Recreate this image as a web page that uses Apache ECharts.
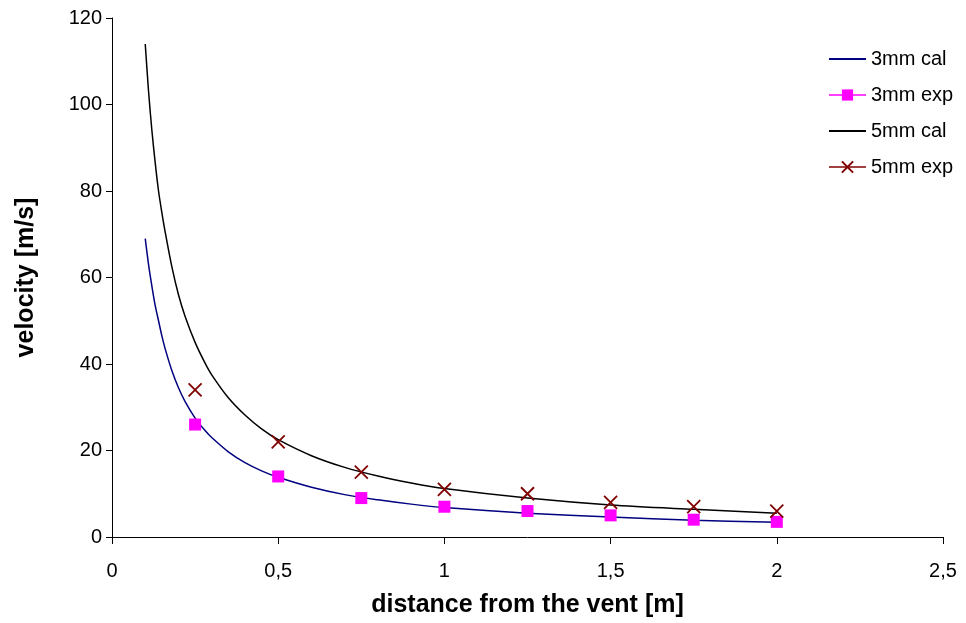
<!DOCTYPE html>
<html>
<head>
<meta charset="utf-8">
<script src="https://cdn.jsdelivr.net/npm/echarts@6/dist/echarts.min.js"></script>
<style>html,body{margin:0;padding:0;background:#fff;}#c{width:966px;height:623px;}</style>
</head>
<body>
<div id="c"></div>
<script>
// Calculated curves
var calX   = [0.1, 0.11, 0.12, 0.13, 0.14, 0.15, 0.16, 0.18, 0.2, 0.22, 0.25, 0.28, 0.3, 0.35, 0.4, 0.45, 0.5, 0.6, 0.7, 0.8, 0.9, 1.0, 1.25, 1.5, 1.75, 2.0];
var cal3mm = [69, 63, 58, 53.5, 50, 46.5, 43.5, 38.5, 34.5, 31.3, 27.5, 24.6, 23, 19.7, 17.2, 15.3, 13.8, 11.5, 9.8, 8.6, 7.6, 6.8, 5.5, 4.6, 3.9, 3.4];
var cal5mm = [114, 103, 94, 86.5, 80, 75, 70.5, 62.5, 56, 51, 45, 40.2, 37.5, 32.2, 28.2, 25, 22.5, 18.8, 16.1, 14.1, 12.5, 11.2, 9, 7.4, 6.4, 5.5];
// Experimental points
var expX   = [0.25, 0.5, 0.75, 1.0, 1.25, 1.5, 1.75, 2.0];
var exp3mm = [26, 14, 9, 7, 6, 5, 4, 3.5];
var exp5mm = [34, 22, 15, 11, 10, 8, 7, 6];
var xTicks = ['0', '0,5', '1', '1,5', '2', '2,5'];

function pairs(xs, ys) { return xs.map(function (x, i) { return [x, ys[i]]; }); }

var FONT = '"Liberation Sans", Arial, sans-serif';
var chart = echarts.init(document.getElementById('c'), null, { renderer: 'canvas' });
chart.setOption({
  animation: false,
  backgroundColor: '#ffffff',
  grid: { left: 112, right: 23, top: 18, bottom: 80, containLabel: false },
  legend: {
    orient: 'vertical', left: 823, top: 43, itemWidth: 37, itemHeight: 14, itemGap: 14,
    textStyle: { fontFamily: FONT, fontSize: 20, color: '#000', lineHeight: 22 },
    data: [
      { name: '3mm cal', itemStyle: { opacity: 0 } },
      { name: '3mm exp', lineStyle: { width: 1.5, color: '#ff00ff', opacity: 1 } },
      { name: '5mm cal', itemStyle: { opacity: 0 } },
      { name: '5mm exp', lineStyle: { width: 1.5, color: '#800000', opacity: 1 } }
    ]
  },
  xAxis: {
    type: 'value', min: 0, max: 2.5, interval: 0.5,
    name: 'distance from the vent [m]', nameLocation: 'middle', nameGap: 56,
    nameTextStyle: { fontFamily: FONT, fontSize: 25, fontWeight: 'bold', color: '#000' },
    axisLine: { lineStyle: { color: '#000', width: 1 } },
    axisTick: { show: true, inside: false, length: 7, lineStyle: { color: '#000' } },
    axisLabel: { fontFamily: FONT, fontSize: 20, color: '#000', margin: 24,
      formatter: function (v) { return xTicks[Math.round(v / 0.5)]; } },
    splitLine: { show: false }
  },
  yAxis: {
    type: 'value', min: 0, max: 120, interval: 20,
    name: 'velocity [m/s]', nameLocation: 'middle', nameGap: 73, nameRotate: 90,
    nameTextStyle: { fontFamily: FONT, fontSize: 25, fontWeight: 'bold', color: '#000' },
    axisLine: { show: true, lineStyle: { color: '#000', width: 1 } },
    axisTick: { show: true, inside: false, length: 6, lineStyle: { color: '#000' } },
    axisLabel: { fontFamily: FONT, fontSize: 20, color: '#000', margin: 10 },
    splitLine: { show: false }
  },
  series: [
    { name: '3mm cal', type: 'line', data: pairs(calX, cal3mm), smooth: 0.3, symbol: 'none',
      lineStyle: { color: '#000080', width: 1.5 }, itemStyle: { color: '#000080' }, z: 2 },
    { name: '3mm exp', type: 'line', data: pairs(expX, exp3mm), symbol: 'rect', symbolSize: 12,
      lineStyle: { width: 0, opacity: 0, color: '#ff00ff' }, itemStyle: { color: '#ff00ff' }, z: 4 },
    { name: '5mm cal', type: 'line', data: pairs(calX, cal5mm), smooth: 0.3, symbol: 'none',
      lineStyle: { color: '#000000', width: 1.5 }, itemStyle: { color: '#000000' }, z: 2 },
    { name: '5mm exp', type: 'line', data: pairs(expX, exp5mm),
      symbol: 'path://M0,0L10,10M10,0L0,10', symbolSize: 13,
      lineStyle: { width: 0, opacity: 0, color: '#800000' },
      itemStyle: { color: 'rgba(0,0,0,0)', borderColor: '#800000', borderWidth: 1.8 }, z: 4 }
  ]
});
</script>
</body>
</html>
